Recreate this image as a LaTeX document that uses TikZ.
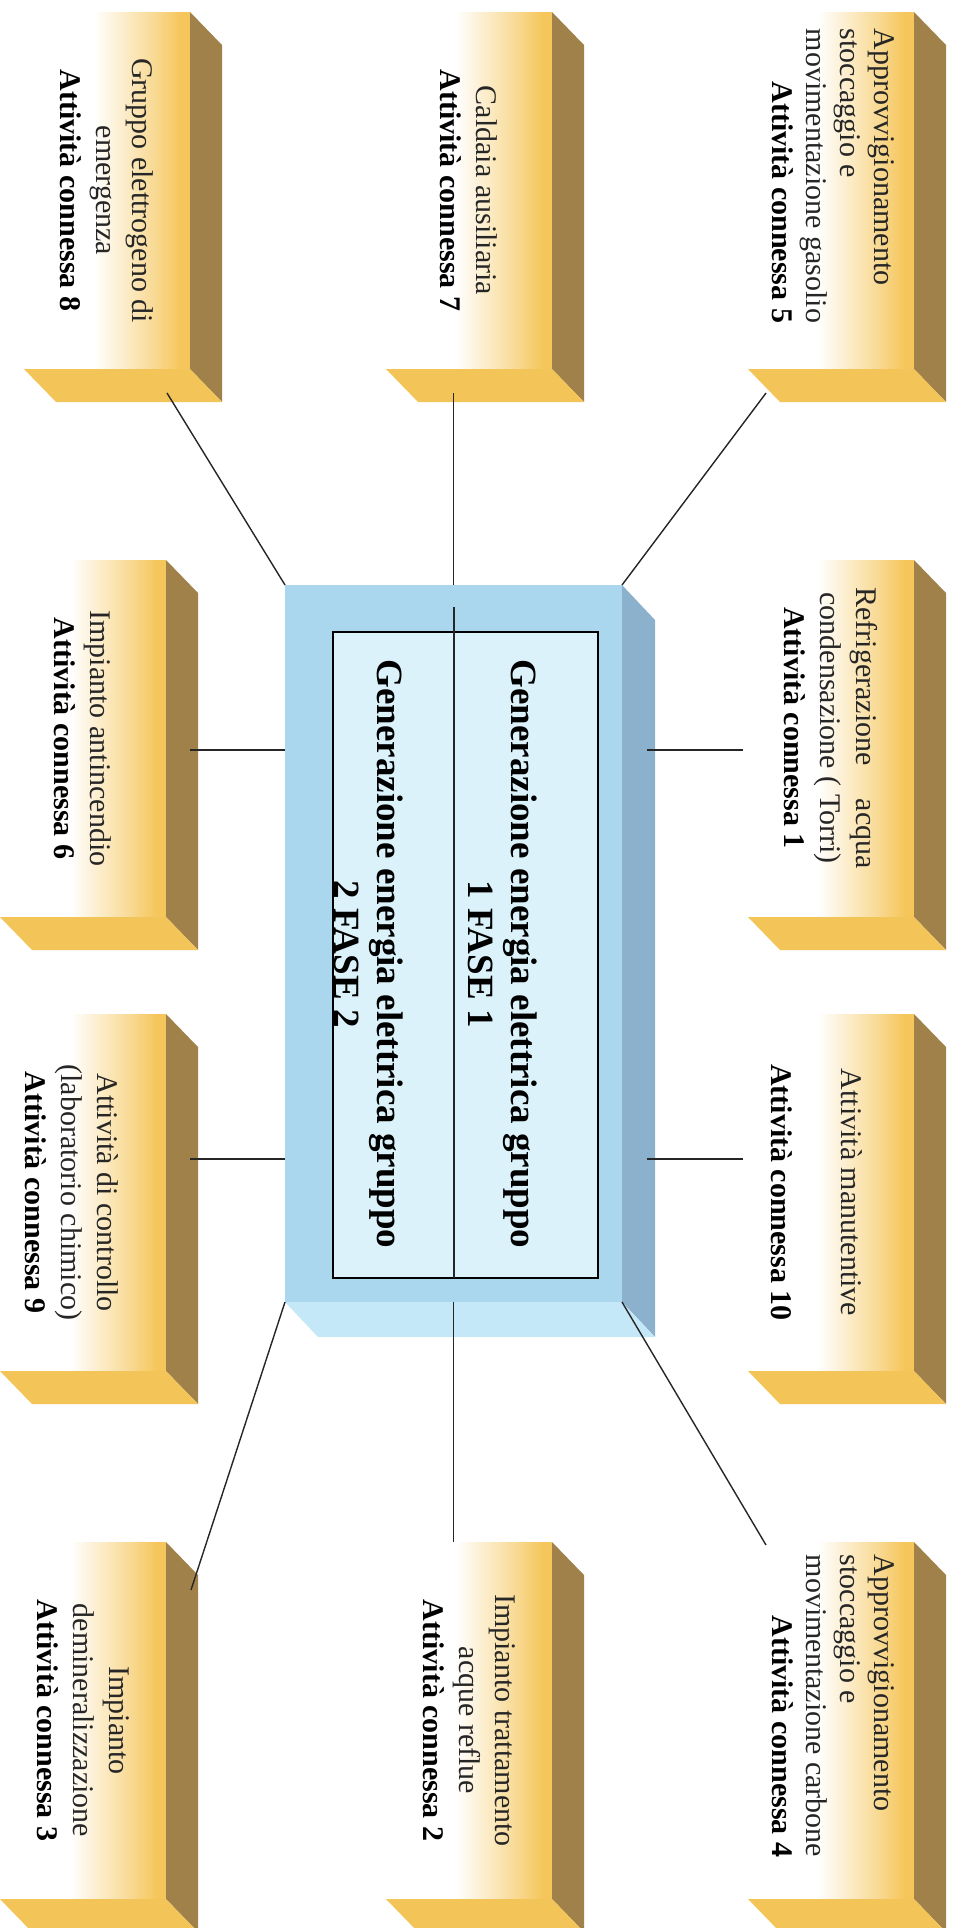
\documentclass[tikz,border=0pt]{standalone}
\usepackage{fontspec}
\setmainfont{Liberation Serif}
\usetikzlibrary{positioning}
\definecolor{boxgold}{RGB}{245,198,92}
\definecolor{boxside}{RGB}{161,129,74}
\definecolor{boxbase}{RGB}{243,196,88}
\definecolor{genfront}{RGB}{170,214,238}
\definecolor{genside}{RGB}{140,177,205}
\definecolor{genbase}{RGB}{196,232,247}
\definecolor{geninner}{RGB}{219,242,250}
\pgfdeclarehorizontalshading{boxshade}{100bp}{color(0bp)=(white); color(25bp)=(white); color(46bp)=(white); color(64bp)=(boxgold!65); color(72bp)=(boxgold); color(100bp)=(boxgold)}

\begin{document}
\begin{tikzpicture}[x=1pt, y=-1pt,
		face/.style={shade, shading=boxshade, minimum width=166pt, minimum height=357pt, inner sep=0pt, outer sep=0pt},
		genface/.style={fill=genfront, minimum width=337pt, minimum height=717pt, inner sep=0pt, outer sep=0pt},
		boxtext/.style={rotate=-90, align=center, text=black!85, font=\fontsize{30}{36}\selectfont},
		gentext/.style={rotate=-90, align=center, font=\bfseries\fontsize{37}{43}\selectfont},
		link/.style={line width=1.4pt, black!85}]
		\useasboundingbox (0,0) rectangle (955,1928);
		\fill[white] (0,0) rectangle (955,1928);
		% central block
		\node[genface] (gen) at (453.5,943.5) {};
		\fill[genside] (gen.north east) -- ++(33,35) -- ([shift={(33,35)}]gen.south east) -- (gen.south east) -- cycle;
		\fill[genbase] (gen.south west) -- (gen.south east) -- ++(33,35) -- ([shift={(33,35)}]gen.south west) -- cycle;
		\node[draw, line width=1.5pt, fill=geninner, minimum width=265pt, minimum height=646pt] (inner) at (465.5,955) {};
		\draw[link] (454,607) -- (454,1278);
		\node[gentext] (fase1) at (503,954) {Generazione energia elettrica gruppo\\1 FASE 1};
		\node[gentext] (fase2) at (369,954) {Generazione energia elettrica gruppo\\2 FASE 2};
		% yellow boxes
		\node[face] (gruppo) at (107,190.5) {};
		\node[face] (caldaia) at (469,190.5) {};
		\node[face] (gasolio) at (831,190.5) {};
		\node[face] (antincendio) at (83,738.5) {};
		\node[face] (refrig) at (831,738.5) {};
		\node[face] (controllo) at (83,1192.5) {};
		\node[face] (manut) at (831,1192.5) {};
		\node[face] (demin) at (83,1720.5) {};
		\node[face] (tratt) at (469,1720.5) {};
		\node[face] (carbone) at (831,1720.5) {};
		\foreach \b in {gruppo,caldaia,gasolio,antincendio,refrig,controllo,manut,demin,tratt,carbone}{
			\fill[boxside] (\b.north east) -- ++(32,33) -- ([shift={(32,33)}]\b.south east) -- (\b.south east) -- cycle;
			\fill[boxbase] (\b.south west) -- (\b.south east) -- ++(32,33) -- ([shift={(32,33)}]\b.south west) -- cycle;
		}
		% labels:
		\node[boxtext] (gruppo-t) at (gruppo) {Gruppo elettrogeno di\\emergenza\\\textbf{\color{black}Attività connessa 8}};
		\node[boxtext] (caldaia-t) at (caldaia) {Caldaia ausiliaria\\\textbf{\color{black}Attività connessa 7}};
		\node[boxtext] (gasolio-t) at (831,176) {\begin{tabular}{@{}l@{}}Approvvigionamento\\[-2pt]stoccaggio e\\[-2pt]movimentazione gasolio\\[-2pt]\multicolumn{1}{@{}r@{}}{\textbf{\color{black}Attività connessa 5}}\end{tabular}};
		\node[boxtext] (antincendio-t) at (antincendio) {Impianto antincendio\\\textbf{\color{black}Attività connessa 6}};
		\node[boxtext] (refrig-t) at (831,728) {Refrigerazione\hspace{1.1em}acqua\\condensazione ( Torri)\\\textbf{\color{black}Attività connessa 1}};
		\node[boxtext] (controllo-t) at (72,1192.5) {Attività di controllo\\(laboratorio chimico)\\\textbf{\color{black}Attività connessa 9}};
		\node[boxtext] (manut-t) at (817,1192.5) {Attività manutentive\\[34pt]\textbf{\color{black}Attività connessa 10}};
		\node[boxtext] (demin-t) at (demin) {Impianto\\demineralizzazione\\\textbf{\color{black}Attività connessa 3}};
		\node[boxtext] (tratt-t) at (tratt) {Impianto trattamento\\acque reflue\\\textbf{\color{black}Attività connessa 2}};
		\node[boxtext] (carbone-t) at (831,1706) {\begin{tabular}{@{}l@{}}Approvvigionamento\\[-2pt]stoccaggio e\\[-2pt]movimentazione carbone\\[-2pt]\multicolumn{1}{@{}r@{}}{\textbf{\color{black}Attività connessa 4}}\end{tabular}};
		% connector ends
		\coordinate (gruppo-e) at (167,393);
		\coordinate (caldaia-e) at (453.5,393);
		\coordinate (gasolio-e) at (766,393);
		\coordinate (antincendio-e) at (190,750);
		\coordinate (refrig-e) at (743,750);
		\coordinate (controllo-e) at (190,1159);
		\coordinate (manut-e) at (743,1159);
		\coordinate (demin-e) at (191,1590);
		\coordinate (tratt-e) at (453.5,1542);
		\coordinate (carbone-e) at (766,1545);
		% connectors
		\draw[link] (gruppo-e) -- (gen.north west);
		\draw[link] (caldaia-e) -- (gen.north);
		\draw[link] (gasolio-e) -- (gen.north east);
		\draw[link] (antincendio-e) -- (antincendio-e -| gen.west);
		\draw[link] (refrig-e) -- ([xshift=25pt]refrig-e -| gen.east);
		\draw[link] (controllo-e) -- (controllo-e -| gen.west);
		\draw[link] (manut-e) -- ([xshift=25pt]manut-e -| gen.east);
		\draw[link] (demin-e) -- (gen.south west);
		\draw[link] (tratt-e) -- (gen.south);
		\draw[link] (carbone-e) -- (gen.south east);
	\end{tikzpicture}
\end{document}
